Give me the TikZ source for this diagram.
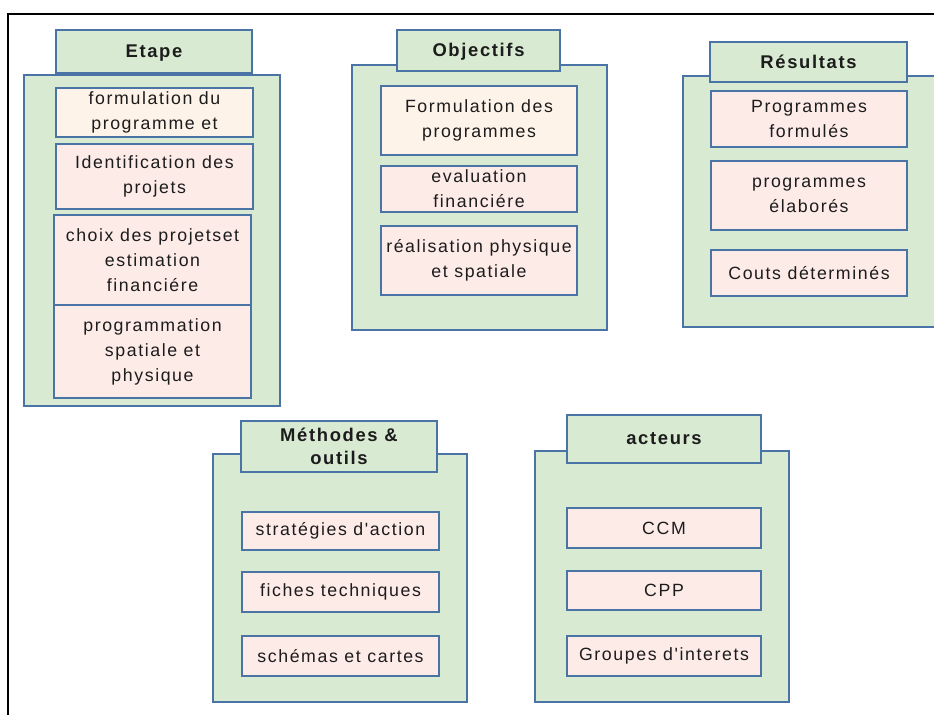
\documentclass[tikz,border=0pt]{standalone}
\usepackage{fontspec}
\setmainfont{Liberation Sans}[LetterSpace=9, Ligatures={TeXOff,NoCommon}]
\definecolor{panelgreen}{HTML}{D9EAD3}
\definecolor{edgeblue}{HTML}{4A74A6}
\definecolor{cellpink}{HTML}{FDEBE8}
\definecolor{cellcream}{HTML}{FEF3E8}
\definecolor{inkgray}{HTML}{1C1C1C}

% one box from its corner pixels: name, x1, y1, x2, y2, style, text
\newcommand\drawcell[7]{%
  \node[#6, minimum width={(#4-#2)*0.75pt}, minimum height={(#5-#3)*0.75pt}]
    (#1) at ({(#2+#4)/2},{(#3+#5)/2}) {#7};}

\begin{document}
\begin{tikzpicture}[x=0.75pt, y=-0.75pt,
  boxbase/.style={draw=edgeblue, line width=1.2pt, inner sep=0pt, align=center,
    text=inkgray, font=\fontsize{13.3}{18.75}\selectfont},
  panel/.style={boxbase, fill=panelgreen},
  header/.style={boxbase, fill=panelgreen, text depth=1pt,
    font=\fontsize{13.8}{17.25}\selectfont\bfseries},
  pinkcell/.style={boxbase, fill=cellpink},
  creamcell/.style={boxbase, fill=cellcream}]

\useasboundingbox (0,0) rectangle (934,715);
\clip (0,0) rectangle (934,715);
\fill[white] (0,0) rectangle (934,715);

% page frame (top and left edges)
\coordinate (fa) at (8,715);
\coordinate (fb) at (8,14);
\coordinate (fc) at (936,14);
\draw[black, line width=1.2pt] (fa) -- (fb) -- (fc);

% Etape
\drawcell{etapeP}{24}{75}{280}{406}{panel}{}
\drawcell{etapeH}{56}{30}{252}{73}{header}{Etape}
\drawcell{e1}{56}{88}{253}{137}{creamcell}{formulation du\\programme et}
\drawcell{e2}{56}{144}{253}{209}{pinkcell}{Identification des\\projets}
\drawcell{e3}{54}{215}{251}{305}{pinkcell}{choix des projetset\\estimation\\financiére}
\drawcell{e4}{54}{305}{251}{398}{pinkcell}{programmation\\spatiale et\\physique}

% Objectifs
\drawcell{objP}{352}{65}{607}{330}{panel}{}
\drawcell{objH}{397}{30}{560}{71}{header}{Objectifs}
\drawcell{o1}{381}{86}{577}{155}{creamcell}{Formulation des\\programmes}
\drawcell{o2}{381}{166}{577}{212}{pinkcell}{evaluation\\financiére}
\drawcell{o3}{381}{226}{577}{295}{pinkcell}{réalisation physique\\et spatiale}

% Résultats
\drawcell{resP}{683}{76}{945}{327}{panel}{}
\drawcell{resH}{710}{42}{907}{82}{header}{Résultats}
\drawcell{r1}{711}{91}{907}{147}{pinkcell}{Programmes\\formulés}
\drawcell{r2}{711}{161}{907}{230}{pinkcell}{programmes\\élaborés}
\drawcell{r3}{711}{250}{907}{296}{pinkcell}{Couts déterminés}

% Méthodes & outils
\drawcell{metP}{213}{454}{467}{702}{panel}{}
\drawcell{metH}{241}{421}{437}{472}{header}{Méthodes \&\\outils}
\drawcell{m1}{242}{512}{439}{550}{pinkcell}{stratégies d'action}
\drawcell{m2}{242}{572}{439}{612}{pinkcell}{fiches techniques}
\drawcell{m3}{242}{636}{439}{676}{pinkcell}{schémas et cartes}

% acteurs
\drawcell{actP}{535}{451}{789}{702}{panel}{}
\drawcell{actH}{567}{415}{761}{463}{header}{acteurs}
\drawcell{a1}{567}{508}{761}{548}{pinkcell}{CCM}
\drawcell{a2}{567}{571}{761}{610}{pinkcell}{CPP}
\drawcell{a3}{567}{636}{761}{676}{pinkcell}{Groupes d'interets}
\end{tikzpicture}
\end{document}
